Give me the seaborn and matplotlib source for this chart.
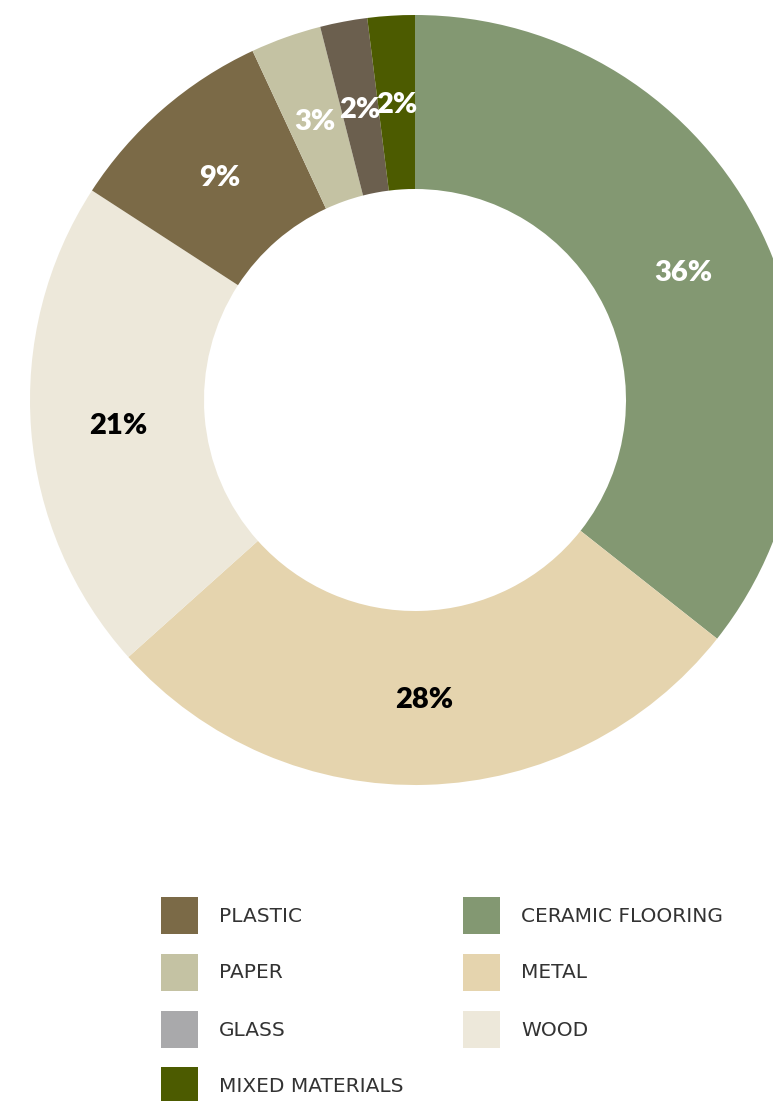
import matplotlib
matplotlib.use("Agg")
import matplotlib.pyplot as plt
from matplotlib.patches import Rectangle
import numpy as np
import seaborn as sns

# Share of waste by material (percent), clockwise from 12 o'clock
materials = ["CERAMIC FLOORING", "METAL", "WOOD", "PLASTIC", "PAPER", "GLASS", "MIXED MATERIALS"]
shares = [36, 28, 21, 9, 3, 2, 2]
slice_colors = ["#839872", "#e5d4ae", "#ede8da", "#7b6a47", "#c4c2a3", "#6b5f4e", "#4c5b00"]
label_colors = ["white", "black", "black", "white", "white", "white", "white"]

# Legend entries, listed column by column
legend_left = ["PLASTIC", "PAPER", "GLASS", "MIXED MATERIALS"]
legend_left_colors = ["#7b6a47", "#c4c2a3", "#a9a9ab", "#4c5b00"]
legend_right = ["CERAMIC FLOORING", "METAL", "WOOD"]
legend_right_colors = ["#839872", "#e5d4ae", "#ede8da"]

sns.set_theme(style="white")
plt.rcParams["font.family"] = ["Lato", "DejaVu Sans"]

W, H = 773, 1101
fig = plt.figure(figsize=(W / 100, H / 100), dpi=100)
ax = fig.add_axes([0, 0, 1, 1])

R = 385
inner = 211
cx, cy = 415, H - 400

ax.pie(
    shares,
    colors=slice_colors,
    startangle=90,
    counterclock=False,
    radius=R,
    center=(cx, cy),
    wedgeprops=dict(width=R - inner, linewidth=0),
    frame=True,
)
ax.set_xlim(0, W)
ax.set_ylim(0, H)
ax.set_aspect("equal")
ax.axis("off")

# Percentage labels at the middle of each ring segment
total = sum(shares)
mid_r = (R + inner) / 2
theta0 = 90.0
for val, tc in zip(shares, label_colors):
    span = 360.0 * val / total
    mid = np.deg2rad(theta0 - span / 2)
    theta0 -= span
    ax.text(cx + mid_r * np.cos(mid), cy + mid_r * np.sin(mid), f"{val}%",
            ha="center", va="center_baseline", color=tc, fontsize=21, fontweight="heavy")

# Legend: two columns of colour swatches with labels
row_y = [915, 972, 1029, 1085]
sw = 37
for col_x, names, cols in [(161, legend_left, legend_left_colors),
                           (463, legend_right, legend_right_colors)]:
    for i, (name, c) in enumerate(zip(names, cols)):
        yc = H - row_y[i]
        ax.add_patch(Rectangle((col_x, yc - sw / 2), sw, sw, facecolor=c, edgecolor="none"))
        ax.text(col_x + 58, yc - 1, name, ha="left", va="center", fontsize=14.5,
                color="#333333", family=["DejaVu Sans"], fontweight="normal")

fig.savefig("out.png", dpi=100)
